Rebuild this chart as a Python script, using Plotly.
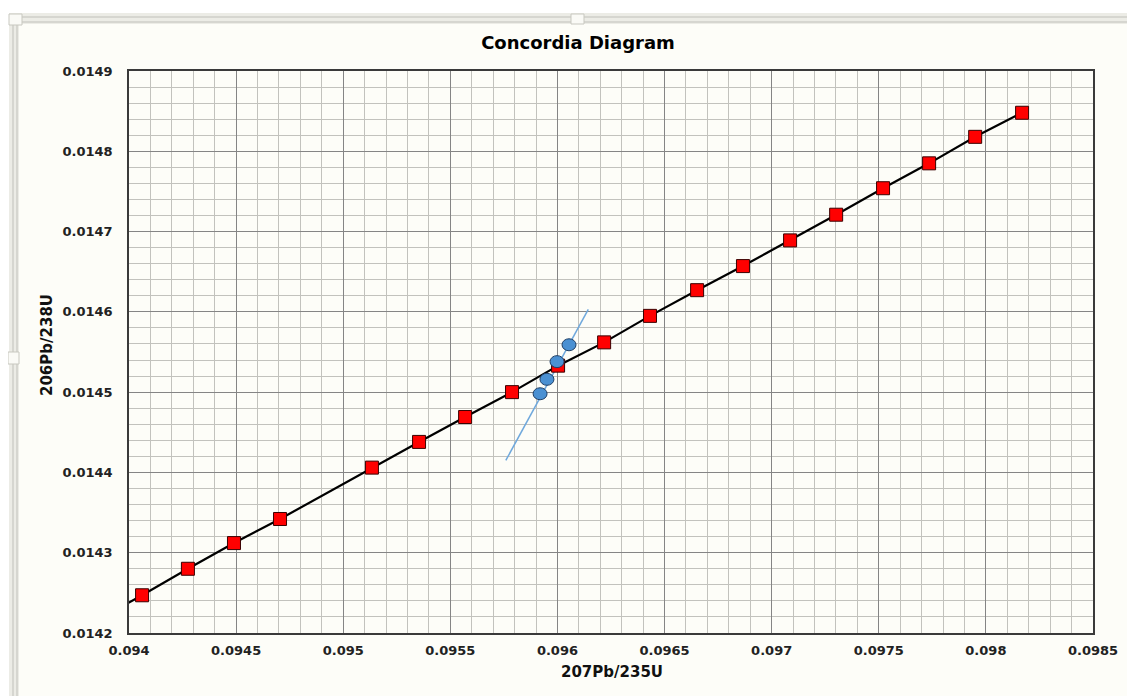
import plotly.graph_objects as go

# ---- data ----
concordia_x = [0.094061, 0.094275, 0.094490, 0.094705, 0.095134, 0.095354, 0.095569,
               0.095788, 0.096003, 0.096218, 0.096432, 0.096652, 0.096866, 0.097086,
               0.097301, 0.097520, 0.097735, 0.097950, 0.098169]
concordia_y = [0.014247, 0.014280, 0.014312, 0.014342, 0.014406, 0.014438, 0.014469,
               0.014500, 0.014533, 0.014562, 0.014595, 0.014627, 0.014657, 0.014689,
               0.014721, 0.014754, 0.014785, 0.014818, 0.014848]
# the concordia curve continues past the left edge of the plot
curve_start_x = [0.093846]
curve_start_y = [0.014215]

sample_x = [0.095919, 0.095951, 0.095998, 0.096054]
sample_y = [0.014498, 0.014516, 0.014538, 0.014559]

discordia_x = [0.095759, 0.096144]
discordia_y = [0.014415, 0.014603]

x_tickvals = [0.094, 0.0945, 0.095, 0.0955, 0.096, 0.0965, 0.097, 0.0975, 0.098, 0.0985]
x_ticktext = ["0.094", "0.0945", "0.095", "0.0955", "0.096", "0.0965", "0.097", "0.0975", "0.098", "0.0985"]
y_tickvals = [0.0142, 0.0143, 0.0144, 0.0145, 0.0146, 0.0147, 0.0148, 0.0149]
y_ticktext = ["0.0142", "0.0143", "0.0144", "0.0145", "0.0146", "0.0147", "0.0148", "0.0149"]

title_text = "Concordia Diagram"
x_title = "207Pb/235U"
y_title = "206Pb/238U"

# ---- layout geometry (page pixel coords; page has an 8px body margin) ----
OFF = 8
PAGE_W, PAGE_H = 1135, 696
W, H = PAGE_W - OFF, PAGE_H - OFF
PLOT_L, PLOT_R, PLOT_T, PLOT_B = 129, 1093, 71, 633   # page coords of plot area
L = PLOT_L - OFF
T = PLOT_T - OFF
R = W - (PLOT_R - OFF)
B = H - (PLOT_B - OFF)
PW, PH = PLOT_R - PLOT_L, PLOT_B - PLOT_T

def px(xp):
    return (xp - PLOT_L) / PW

def py(yp):
    return (PLOT_B - yp) / PH

FONT = "DejaVu Sans, Verdana, sans-serif"
BG = "#FDFDF8"

fig = go.Figure()

fig.add_trace(go.Scatter(
    x=discordia_x, y=discordia_y, mode="lines",
    line=dict(color="#6FA8DC", width=1.5), hoverinfo="skip", showlegend=False))

fig.add_trace(go.Scatter(
    x=curve_start_x + concordia_x, y=curve_start_y + concordia_y, mode="lines",
    line=dict(color="#000000", width=2.2), hoverinfo="skip", showlegend=False))

fig.add_trace(go.Scatter(
    x=concordia_x, y=concordia_y, mode="markers",
    marker=dict(symbol="square", size=13, color="#FF0000",
                line=dict(color="#3A0000", width=1)),
    showlegend=False))

# sample ellipses (pixel-sized, anchored at data points)
shapes = []
for sx, sy in zip(sample_x, sample_y):
    shapes.append(dict(type="circle", xref="x", yref="y",
                       xsizemode="pixel", ysizemode="pixel",
                       xanchor=sx, yanchor=sy,
                       x0=-7, x1=7, y0=-6, y1=6,
                       fillcolor="#4A90D2", line=dict(color="#1F3F66", width=1),
                       layer="above"))

# frame decoration (selected chart border look)
frame_col = "#ECECE6"
line_col = "#CFCFC8"
shapes += [
    dict(type="rect", xref="paper", yref="paper", x0=px(0), x1=px(PAGE_W), y0=py(0), y1=py(13),
         fillcolor="#FFFFFF", line=dict(width=0), layer="below"),
    dict(type="rect", xref="paper", yref="paper", x0=px(0), x1=px(9), y0=py(0), y1=py(PAGE_H),
         fillcolor="#FFFFFF", line=dict(width=0), layer="below"),
    dict(type="rect", xref="paper", yref="paper", x0=px(9), x1=px(PAGE_W), y0=py(13), y1=py(24),
         fillcolor=frame_col, line=dict(width=0), layer="below"),
    dict(type="rect", xref="paper", yref="paper", x0=px(9), x1=px(19), y0=py(13), y1=py(PAGE_H),
         fillcolor=frame_col, line=dict(width=0), layer="below"),
    dict(type="line", xref="paper", yref="paper", x0=px(14), x1=px(PAGE_W), y0=py(17), y1=py(17),
         line=dict(color=line_col, width=1.5), layer="below"),
    dict(type="line", xref="paper", yref="paper", x0=px(19), x1=px(PAGE_W), y0=py(22), y1=py(22),
         line=dict(color=line_col, width=1.5), layer="below"),
    dict(type="line", xref="paper", yref="paper", x0=px(13), x1=px(13), y0=py(17), y1=py(PAGE_H),
         line=dict(color=line_col, width=1.5), layer="below"),
    dict(type="line", xref="paper", yref="paper", x0=px(17), x1=px(17), y0=py(22), y1=py(PAGE_H),
         line=dict(color=line_col, width=1.5), layer="below"),
    dict(type="rect", xref="paper", yref="paper", x0=px(9), x1=px(22), y0=py(14), y1=py(25),
         fillcolor="#FAFAF6", line=dict(color="#C8C8C0", width=1), layer="below"),
    dict(type="rect", xref="paper", yref="paper", x0=px(571), x1=px(584), y0=py(14), y1=py(24),
         fillcolor="#FAFAF6", line=dict(color="#C8C8C0", width=1), layer="below"),
    dict(type="rect", xref="paper", yref="paper", x0=px(8), x1=px(19), y0=py(352), y1=py(364),
         fillcolor="#FAFAF6", line=dict(color="#C8C8C0", width=1), layer="below"),
    dict(type="line", xref="paper", yref="paper", x0=px(1133), x1=px(1133), y0=py(350), y1=py(366),
         line=dict(color="#D8D8D0", width=2), layer="below"),
]

annotations = [
    dict(text="<b>%s</b>" % x_title, xref="paper", yref="paper", x=px(612), y=py(672),
         xanchor="center", yanchor="middle", showarrow=False,
         font=dict(family=FONT, size=15, color="#111111")),
    dict(text="<b>%s</b>" % y_title, xref="paper", yref="paper", x=px(47), y=py(345),
         xanchor="center", yanchor="middle", showarrow=False, textangle=-90,
         font=dict(family=FONT, size=15, color="#111111")),
]

fig.update_layout(
    width=W, height=H,
    margin=dict(l=L, r=R, t=T, b=B),
    paper_bgcolor=BG, plot_bgcolor=BG,
    title=dict(text="<b>%s</b>" % title_text, x=px(578), xref="paper",
               y=1 - (43 - OFF) / H, yref="container", xanchor="center", yanchor="middle",
               font=dict(family=FONT, size=18, color="#000000")),
    shapes=shapes, annotations=annotations,
    showlegend=False,
)

fig.update_xaxes(
    range=[0.094, 0.0985], tickvals=x_tickvals, ticktext=x_ticktext,
    showgrid=True, gridcolor="#858585", gridwidth=1.2,
    minor=dict(dtick=0.0001, tick0=0.094, showgrid=True, gridcolor="#C2C2BD", gridwidth=1.3),
    zeroline=False, showline=True, linecolor="#3A3A3A", linewidth=1.5, mirror=True,
    ticks="outside", ticklen=5, tickcolor="rgba(0,0,0,0)",
    tickfont=dict(family=FONT, size=13, color="#222222", weight="bold"),
)
fig.update_yaxes(
    range=[0.0142, 0.0149], tickvals=y_tickvals, ticktext=y_ticktext,
    showgrid=True, gridcolor="#858585", gridwidth=1.2,
    minor=dict(dtick=0.00002, tick0=0.0142, showgrid=True, gridcolor="#C2C2BD", gridwidth=1.3),
    zeroline=False, showline=True, linecolor="#3A3A3A", linewidth=1.5, mirror=True,
    ticks="outside", ticklen=12, tickcolor="rgba(0,0,0,0)",
    tickfont=dict(family=FONT, size=13, color="#222222", weight="bold"),
)

fig.write_html("out.html")
